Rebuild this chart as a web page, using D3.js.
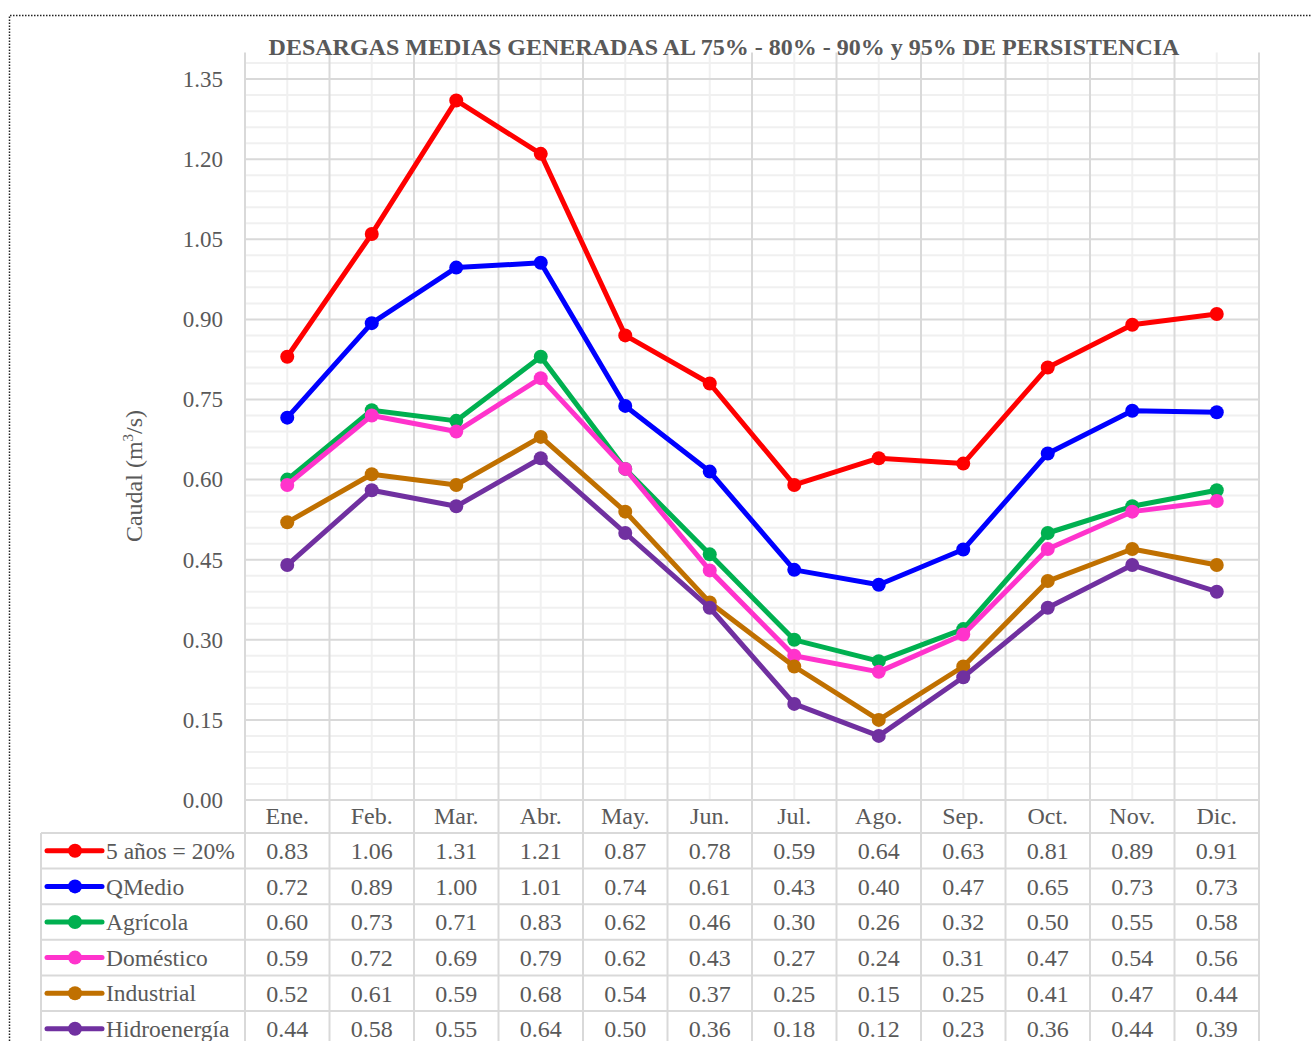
<!DOCTYPE html>
<html><head><meta charset="utf-8">
<script src="https://cdn.jsdelivr.net/npm/d3@7"></script>
<style>
html,body{margin:0;padding:0;background:#fff;}
svg{display:block;font-family:"Liberation Serif","Times New Roman",serif;}
</style></head>
<body><svg id="c" width="1311" height="1041"></svg>
<script>
const months = ["Ene.","Feb.","Mar.","Abr.","May.","Jun.","Jul.","Ago.","Sep.","Oct.","Nov.","Dic."];
const seriesNames = ["5 años = 20%","QMedio","Agrícola","Doméstico","Industrial","Hidroenergía"];
const seriesColors = ["#FF0000","#0000FF","#00B050","#FF33CC","#C07000","#7030A0"];
const s5anos = [0.83,1.06,1.31,1.21,0.87,0.78,0.59,0.64,0.63,0.81,0.89,0.91];
const sQMedio = [0.716,0.893,0.997,1.006,0.738,0.615,0.431,0.403,0.469,0.649,0.729,0.726];
const sAgricola = [0.60,0.73,0.71,0.83,0.62,0.46,0.30,0.26,0.32,0.50,0.55,0.58];
const sDomestico = [0.59,0.72,0.69,0.79,0.62,0.43,0.27,0.24,0.31,0.47,0.54,0.56];
const sIndustrial = [0.52,0.61,0.59,0.68,0.54,0.37,0.25,0.15,0.25,0.41,0.47,0.44];
const sHidro = [0.44,0.58,0.55,0.64,0.50,0.36,0.18,0.12,0.23,0.36,0.44,0.39];
const yTicks = [0,0.15,0.30,0.45,0.60,0.75,0.90,1.05,1.20,1.35];
const titleText = "DESARGAS MEDIAS GENERADAS AL 75% - 80% - 90% y 95% DE PERSISTENCIA";

const data = [s5anos,sQMedio,sAgricola,sDomestico,sIndustrial,sHidro];

const svg = d3.select("#c");
const L = 245, R = 1259, T = 52.4, B = 800;
const x = d3.scaleBand().domain(months).range([L,R]).padding(0);
const y = d3.scaleLinear().domain([0,1.4]).range([B,T]);
const txt = "#595959", major = "#d9d9d9", minor = "#f0f0f0";

// outer dotted border
svg.append("path").attr("d","M9.5,1041 L9.5,15.5 L1311,15.5")
  .attr("fill","none").attr("stroke","#222").attr("stroke-width",1.5).attr("stroke-dasharray","1.5,1.5");

// minor horizontal gridlines
const minorY = d3.range(1,47).map(i=>+(i*0.03).toFixed(2)).filter(v=>Math.abs(v/0.15-Math.round(v/0.15))>1e-6);
svg.append("g").selectAll("line").data(minorY).join("line")
  .attr("x1",L).attr("x2",R).attr("y1",d=>y(d)).attr("y2",d=>y(d))
  .attr("stroke",minor).attr("stroke-width",2);
// minor vertical gridlines at category centers
svg.append("g").selectAll("line").data(months).join("line")
  .attr("x1",d=>x(d)+x.bandwidth()/2).attr("x2",d=>x(d)+x.bandwidth()/2)
  .attr("y1",T).attr("y2",B).attr("stroke",minor).attr("stroke-width",2);
// major horizontal gridlines
svg.append("g").selectAll("line").data(yTicks).join("line")
  .attr("x1",L).attr("x2",R).attr("y1",d=>y(d)).attr("y2",d=>y(d))
  .attr("stroke",major).attr("stroke-width",2);

// table geometry
const headerBottom = 833, rowH = 35.6, tableLeft = 41;
const rowLines = d3.range(0,7).map(i=>headerBottom+i*rowH);
svg.append("g").selectAll("line").data(rowLines).join("line")
  .attr("x1",tableLeft).attr("x2",R).attr("y1",d=>d).attr("y2",d=>d)
  .attr("stroke",major).attr("stroke-width",2);
svg.append("line").attr("x1",tableLeft).attr("x2",tableLeft).attr("y1",headerBottom).attr("y2",1041)
  .attr("stroke",major).attr("stroke-width",2);
// major vertical lines at category boundaries
const bounds = months.map(m=>x(m)).concat([R]);
svg.append("g").selectAll("line").data(bounds).join("line")
  .attr("x1",d=>d).attr("x2",d=>d).attr("y1",T).attr("y2",1041)
  .attr("stroke",major).attr("stroke-width",2);

// title
svg.append("text").attr("x",724).attr("y",55).attr("text-anchor","middle")
  .attr("font-weight","bold").attr("font-size",24).attr("fill",txt).text(titleText);

// y axis labels
const yAxis = d3.axisLeft(y).tickValues(yTicks).tickFormat(d3.format(".2f")).tickSize(0).tickPadding(22);
const ga = svg.append("g").attr("transform",`translate(${L},0)`).call(yAxis);
ga.select(".domain").remove();
ga.selectAll("text").attr("font-size",23).attr("fill",txt).attr("font-family","Liberation Serif");

// y axis title
const yt = svg.append("text").attr("transform","translate(142,476) rotate(-90)")
  .attr("text-anchor","middle").attr("font-size",24).attr("fill",txt);
yt.append("tspan").text("Caudal (m");
yt.append("tspan").attr("font-size",15).attr("dy",-9).text("3");
yt.append("tspan").attr("dy",9).text("/s)");

// header month labels
svg.append("g").selectAll("text").data(months).join("text")
  .attr("x",d=>x(d)+x.bandwidth()/2).attr("y",816).attr("dy","0.35em")
  .attr("text-anchor","middle").attr("font-size",24).attr("fill",txt).text(d=>d);

// lines and markers
const line = d3.line().x((d,i)=>x(months[i])+x.bandwidth()/2).y(d=>y(d));
data.forEach((vals,si)=>{
  const g = svg.append("g");
  g.append("path").datum(vals).attr("d",line).attr("fill","none")
    .attr("stroke",seriesColors[si]).attr("stroke-width",5).attr("stroke-linejoin","round");
  g.selectAll("circle").data(vals).join("circle")
    .attr("cx",(d,i)=>x(months[i])+x.bandwidth()/2).attr("cy",d=>y(d)).attr("r",7)
    .attr("fill",seriesColors[si]);
});

// table rows
const fmt = d3.format(".2f");
data.forEach((vals,si)=>{
  const cy = headerBottom + rowH*si + rowH/2;
  const g = svg.append("g");
  g.append("line").attr("x1",47).attr("x2",102).attr("y1",cy).attr("y2",cy)
    .attr("stroke",seriesColors[si]).attr("stroke-width",5).attr("stroke-linecap","round");
  g.append("circle").attr("cx",75).attr("cy",cy).attr("r",7).attr("fill",seriesColors[si]);
  g.append("text").attr("x",106).attr("y",cy).attr("dy","0.35em")
    .attr("font-size",23.5).attr("fill",txt).text(seriesNames[si]);
  g.selectAll("text.v").data(vals).join("text").attr("class","v")
    .attr("x",(d,i)=>x(months[i])+x.bandwidth()/2).attr("y",cy).attr("dy","0.35em")
    .attr("text-anchor","middle").attr("font-size",24).attr("fill",txt).text(d=>fmt(d));
});
</script></body></html>
